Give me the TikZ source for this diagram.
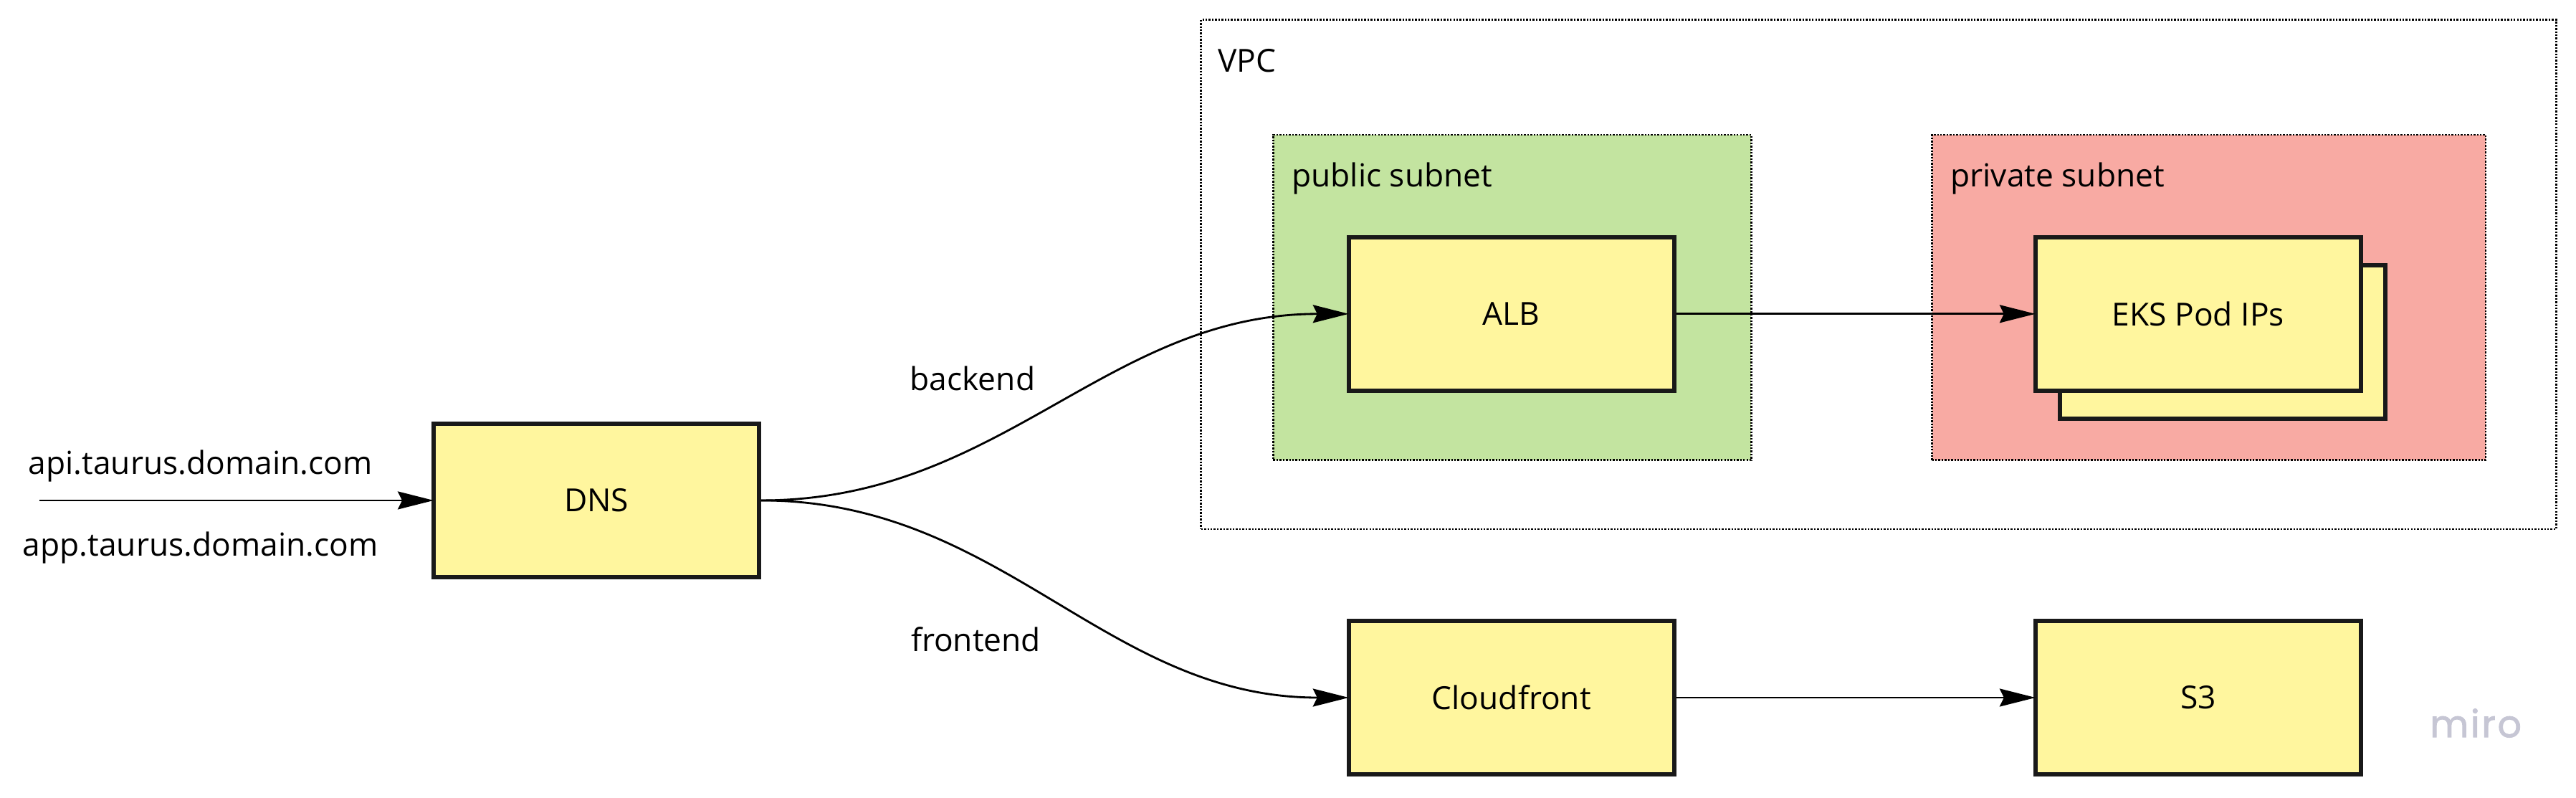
\documentclass[tikz,border=0pt]{standalone}
\usepackage{fontspec}
\setmainfont{Open Sans}
\newfontfamily\mirofont[LetterSpace=5,FakeBold=1.6]{Poppins}
\usetikzlibrary{arrows.meta}
\definecolor{boxyellow}{HTML}{FFF69E}
\definecolor{pubgreen}{HTML}{C3E4A0}
\definecolor{privred}{HTML}{F8AAA3}
\definecolor{mirogray}{HTML}{C6C6D4}
\tikzset{>={Stealth[length=12.4pt,width=6.2pt,inset=1.5pt]}}
\tikzset{
  service/.style={draw=black!90, line width=1.5pt, fill=boxyellow,
    minimum width=3.96cm, minimum height=1.87cm, font=\fontsize{11}{13}\selectfont},
  zone/.style={draw=black, line width=0.65pt, dash pattern=on 0.6pt off 0.5pt, inner sep=0pt},
  lbl/.style={inner sep=0pt, font=\fontsize{11}{13}\selectfont},
  flow/.style={->, line width=0.7pt, shorten >=-0.7pt}
}

\begin{document}
\begin{tikzpicture}[x=0.02cm,y=-0.02cm]
  \useasboundingbox (0,0) rectangle (1568,485.15);
  % VPC and subnets
  \node[zone, minimum width=16.5cm, minimum height=6.2cm] (vpc) at (1143.5,167) {};
  \node[lbl, anchor=base west] (vpclbl) at (741,44) {VPC};
  \node[zone, fill=pubgreen, minimum width=5.82cm, minimum height=3.96cm] (pubnet) at (920.5,181) {};
  \node[lbl, anchor=base west] (publbl) at (786,113.5) {public subnet};
  \node[zone, fill=privred, minimum width=6.74cm, minimum height=3.96cm] (privnet) at (1344.5,181) {};
  \node[lbl, anchor=base west] (privlbl) at (1187,113.5) {private subnet};
  % services
  \node[service] (dns) at (363,304.5) {DNS};
  \node[service] (alb) at (920,191) {ALB};
  \node[service] (eksback) at (1353,208) {};
  \node[service] (eks) at (1338,191) {EKS Pod IPs};
  \node[service] (cloudfront) at (920,424.5) {Cloudfront};
  \node[service] (s3) at (1338,424.5) {S3};
  % incoming requests
  \coordinate (in) at (24,304.5);
  \node[lbl, anchor=base] (apilbl) at (122,288.5) {api.taurus.domain.com};
  \node[lbl, anchor=base] (applbl) at (122,338.5) {app.taurus.domain.com};
  \draw[flow] (in) -- (dns);
  % routes
  \draw[flow] (dns.east) to[out=0,in=180] (alb.west);
  \draw[flow] (dns.east) to[out=0,in=180] (cloudfront.west);
  \node[lbl, anchor=base] (backlbl) at (592,237.5) {backend};
  \node[lbl, anchor=base] (frontlbl) at (594,396.5) {frontend};
  \draw[flow] (alb) -- (eks);
  \draw[flow] (cloudfront) -- (s3);
  \node[text=mirogray, font=\mirofont\fontsize{13}{15}\selectfont] (miro) at (1507,440) {miro};
\end{tikzpicture}
\end{document}
